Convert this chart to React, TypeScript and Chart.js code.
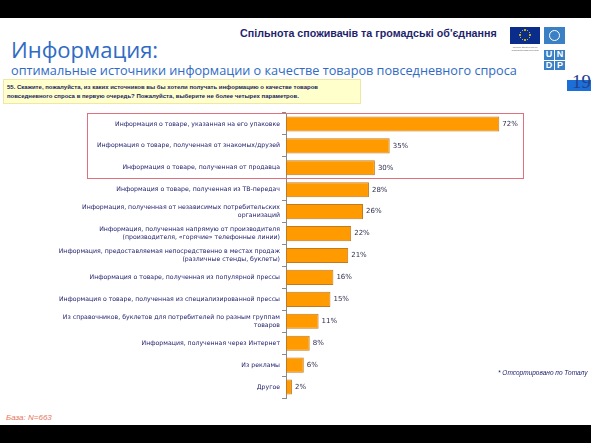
import React, { useEffect, useRef } from "react";
import { Chart, registerables } from "chart.js";

Chart.register(...registerables);

const categories: (string | string[])[] = [
  "Информация о товаре, указанная на его упаковке",
  "Информация о товаре, полученная от знакомых/друзей",
  "Информация о товаре, полученная от продавца",
  "Информация о товаре, полученная из ТВ-передач",
  ["Информация, полученная от независимых потребительских", "организаций"],
  ["Информация, полученная напрямую от производителя", "(производителя, «горячие» телефонные линии)"],
  ["Информация, предоставляемая непосредственно в местах продаж", "(различные стенды, буклеты)"],
  "Информация о товаре, полученная из популярной прессы",
  "Информация о товаре, полученная из специализированной прессы",
  ["Из справочников, буклетов для потребителей по разным группам", "товаров"],
  "Информация, полученная через Интернет",
  "Из рекламы",
  "Другое",
];

const values: number[] = [72, 35, 30, 28, 26, 22, 21, 16, 15, 11, 8, 6, 2];

const headerText = "Спільнота споживачів та громадські об'єднання";
const titleText = "Информация:";
const subtitleText = "оптимальные источники информации о качестве товаров повседневного спроса";
const questionLines = [
  "55. Скажите, пожалуйста, из каких источников вы бы хотели получать информацию о качестве товаров",
  "повседневного спроса в первую очередь? Пожалуйста, выберите не более четырех параметров.",
];
const sortNote = "* Отсортировано по Тоталу";
const baseNote = "База: N=663";
const pageNumber = "19";

const valueLabelPlugin = {
  id: "valueLabels",
  afterDatasetsDraw(chart: any) {
    const ctx = chart.ctx;
    const meta = chart.getDatasetMeta(0);
    ctx.save();
    ctx.font = "7px 'DejaVu Sans'";
    ctx.fillStyle = "#2e2e50";
    ctx.textAlign = "left";
    ctx.textBaseline = "middle";
    meta.data.forEach((bar: any, i: number) => {
      ctx.fillText(values[i] + "%", bar.x + 3, bar.y);
    });
    ctx.restore();
  },
};

function ChartCanvas() {
  const ref = useRef<HTMLCanvasElement | null>(null);
  useEffect(() => {
    if (!ref.current) return;
    const chart = new Chart(ref.current, {
      type: "bar",
      data: {
        labels: categories,
        datasets: [
          {
            data: values,
            backgroundColor: "#ff9a00",
            borderColor: "#c07a20",
            borderWidth: 1,
            borderSkipped: false,
            barPercentage: 0.69,
            categoryPercentage: 1,
          },
        ],
      },
      options: {
        indexAxis: "y",
        animation: false,
        responsive: false,
        maintainAspectRatio: false,
        layout: { padding: { left: 0, right: 68, top: 13, bottom: 7 } },
        plugins: {
          legend: { display: false },
          tooltip: { enabled: false },
          title: { display: false },
        },
        scales: {
          x: { display: false, min: 0, max: 80 },
          y: {
            afterFit: (scale: any) => {
              scale.width = 286;
            },
            border: { display: true, color: "#8a8a8a", width: 1 },
            grid: {
              display: true,
              drawOnChartArea: false,
              drawTicks: true,
              tickLength: 4,
              offset: true,
              color: "#8a8a8a",
            },
            ticks: {
              padding: 2,
              color: "#1c1c6b",
              font: { family: "'DejaVu Sans'", size: 6.2, lineHeight: 1.25 },
              autoSkip: false,
            },
          },
        },
      },
      plugins: [valueLabelPlugin],
    });
    return () => chart.destroy();
  }, []);
  return (
    <canvas
      ref={ref}
      width={591}
      height={305}
      style={{ position: "absolute", left: 0, top: 100, width: 591, height: 305 }}
    />
  );
}

function EUFlag() {
  const dots = [];
  for (let i = 0; i < 12; i++) {
    const a = (i / 12) * Math.PI * 2;
    dots.push(
      <div
        key={i}
        style={{
          position: "absolute",
          left: 15 + Math.cos(a) * 5 - 0.75,
          top: 8 + Math.sin(a) * 5 - 0.75,
          width: 1.5,
          height: 1.5,
          background: "#ffdd00",
          borderRadius: 1,
        }}
      />
    );
  }
  return (
    <div style={{ position: "absolute", left: 510, top: 27, width: 30, height: 17, background: "#0a2d8c" }}>
      {dots}
    </div>
  );
}

export default function App() {
  const abs = (o: React.CSSProperties): React.CSSProperties => ({ position: "absolute", ...o });
  return (
    <div
      style={{
        position: "fixed",
        left: 0,
        top: 0,
        width: 591,
        height: 443,
        background: "#ffffff",
        overflow: "hidden",
        fontFamily: "'Liberation Sans', Arial, sans-serif",
      }}
    >
      <div style={abs({ left: 0, top: 0, width: 591, height: 18, background: "#000" })} />
      <div style={abs({ left: 0, top: 425, width: 591, height: 18, background: "#000" })} />

      <div
        style={abs({
          left: 240,
          top: 27,
          fontSize: 10.7,
          fontWeight: "bold",
          color: "#1f1f6e",
          whiteSpace: "nowrap",
        })}
      >
        {headerText}
      </div>

      <EUFlag />
      <div style={abs({ left: 508, top: 46, width: 34, fontSize: 2.5, lineHeight: "3px", color: "#555", textAlign: "center" })}>
        Проект фінансується Європейським Союзом
      </div>
      <div style={abs({ left: 544, top: 27, width: 21, height: 17, background: "#3b7fc4" })}>
        <div
          style={abs({
            left: 5,
            top: 3,
            width: 11,
            height: 11,
            borderRadius: "50%",
            border: "1.5px solid #ffffff",
            boxSizing: "border-box",
          })}
        />
      </div>
      <div
        style={abs({
          left: 544,
          top: 50,
          width: 21,
          height: 20,
          display: "grid",
          gridTemplateColumns: "10px 10px",
          gridTemplateRows: "9.5px 9.5px",
          gap: 1,
        })}
      >
        {["U", "N", "D", "P"].map((l) => (
          <div
            key={l}
            style={{
              background: "#3b7fc4",
              color: "#fff",
              fontSize: 9,
              fontWeight: "bold",
              lineHeight: "9.5px",
              textAlign: "center",
            }}
          >
            {l}
          </div>
        ))}
      </div>

      <div
        style={abs({
          left: 11,
          top: 36,
          fontSize: 22,
          color: "#2f6bc4",
          fontFamily: "'Open Sans', sans-serif",
          whiteSpace: "nowrap",
          lineHeight: "27px",
        })}
      >
        {titleText}
      </div>
      <div
        style={abs({
          left: 11,
          top: 62,
          fontSize: 12.7,
          color: "#2f6bc4",
          fontFamily: "'Open Sans', sans-serif",
          whiteSpace: "nowrap",
          lineHeight: "17px",
        })}
      >
        {subtitleText}
      </div>

      <div style={abs({ left: 567, top: 80, width: 24, height: 11, background: "#1b6fd6" })} />
      <div
        style={abs({
          left: 572,
          top: 71,
          fontSize: 19,
          color: "#23408f",
          fontFamily: "'Liberation Serif', serif",
          lineHeight: "22px",
        })}
      >
        {pageNumber}
      </div>

      <div
        style={abs({
          left: 3,
          top: 79,
          width: 358,
          height: 25,
          background: "#ffffcc",
          border: "1px solid #f0e6a8",
          boxSizing: "border-box",
        })}
      />
      <div
        style={abs({
          left: 7,
          top: 83,
          fontSize: 6,
          fontWeight: "bold",
          color: "#1c1c5e",
          lineHeight: "9px",
          whiteSpace: "nowrap",
        })}
      >
        {questionLines.map((l, i) => (
          <div key={i}>{l}</div>
        ))}
      </div>

      <ChartCanvas />

      <div
        style={abs({
          left: 87,
          top: 113,
          width: 437,
          height: 66,
          border: "1px solid #e0707c",
          boxSizing: "border-box",
          pointerEvents: "none",
        })}
      />

      <div
        style={abs({
          left: 498,
          top: 369,
          fontSize: 6.5,
          fontStyle: "italic",
          color: "#1c1c6b",
          whiteSpace: "nowrap",
        })}
      >
        {sortNote}
      </div>
      <div
        style={abs({
          left: 6,
          top: 413,
          fontSize: 8,
          fontStyle: "italic",
          color: "#e8745a",
          whiteSpace: "nowrap",
        })}
      >
        {baseNote}
      </div>
    </div>
  );
}
